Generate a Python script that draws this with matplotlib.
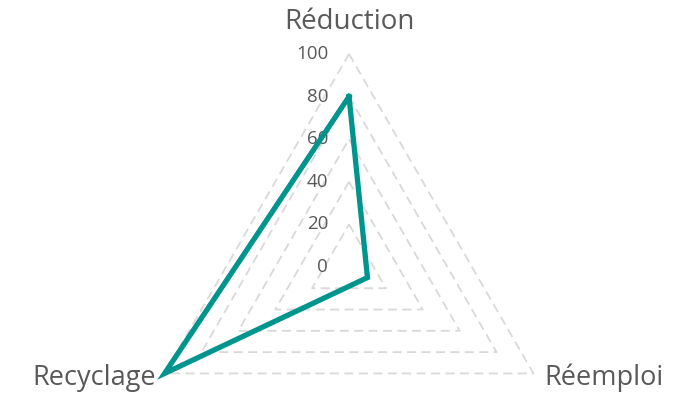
import matplotlib.pyplot as plt
import numpy as np

# donnees du graphique radar
categories = ['Réduction', 'Réemploi', 'Recyclage']
valeurs = [80, 10, 100]
niveaux = [0, 20, 40, 60, 80, 100]

plt.rcParams['font.family'] = ['Open Sans', 'DejaVu Sans']

fig = plt.figure(figsize=(6.89, 3.94), dpi=100)
# centre du radar vers (349, 267) px, rayon ~213 px
ax = fig.add_axes([0.1974, -0.218, 0.6183, 1.081], projection='polar')
ax.set_theta_offset(np.pi / 2)
ax.set_theta_direction(-1)
ax.set_ylim(0, 100)
ax.axis('off')

angles = np.linspace(0, 2 * np.pi, len(categories), endpoint=False)
ferme = np.append(angles, angles[0])

# grille triangulaire en pointilles
for n in niveaux[1:]:
    ax.plot(ferme, [n] * len(ferme), color='#d9d9d9', lw=1.3,
            ls=(0, (5, 3)), clip_on=False, zorder=1)

# serie
v = valeurs + valeurs[:1]
ax.plot(ferme, v, color='#00948f', lw=3.8, clip_on=False, zorder=3,
        solid_joinstyle='miter')

# etiquettes de l'axe
for n in niveaux:
    ax.annotate(str(n), xy=(0, n), xytext=(-15, 0), textcoords='offset points',
                ha='right', va='center', fontsize=13.5, color='#595959',
                annotation_clip=False, zorder=2)

# noms des categories
ax.annotate(categories[0], xy=(angles[0], 100), xytext=(0, 23),
            textcoords='offset points', ha='center', va='center',
            fontsize=20, color='#595959', annotation_clip=False)
ax.annotate(categories[1], xy=(angles[1], 100), xytext=(8, -3),
            textcoords='offset points', ha='left', va='center',
            fontsize=19.5, color='#595959', annotation_clip=False)
ax.annotate(categories[2], xy=(angles[2], 100), xytext=(-6, -3),
            textcoords='offset points', ha='right', va='center',
            fontsize=19.5, color='#595959', annotation_clip=False)

fig.savefig('out.png', dpi=100)
